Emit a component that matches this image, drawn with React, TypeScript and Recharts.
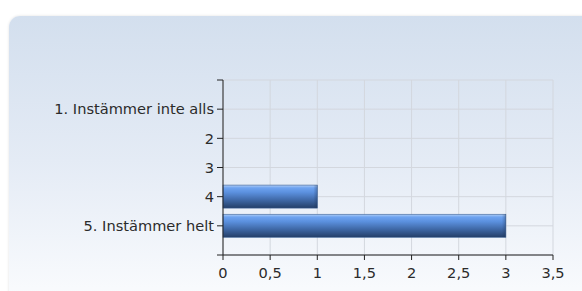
import { Bar, BarChart, CartesianGrid, XAxis, YAxis } from "recharts";

const categories = ["1. Instämmer inte alls", "2", "3", "4", "5. Instämmer helt"];
const positions = [1, 2, 3, 4, 5];
const answers = [0, 0, 0, 1, 3];
const xTicks = [0, 0.5, 1, 1.5, 2, 2.5, 3, 3.5];
const yTicks = [0, 1, 2, 3, 4, 5, 6];

const data = categories.map((name, i) => ({ name, pos: positions[i], value: answers[i] }));

const font = { fontFamily: "DejaVu Sans", fontSize: 14.6, fill: "#2b2b2b" };

function CylinderBar(props: any) {
  const { x, y, width, height } = props;
  if (!width || width <= 0) return null;
  return (
    <g>
      <rect x={x} y={y} width={width} height={height} fill="url(#barGrad)" stroke="#3a5f94" strokeWidth={0.6} />
      <rect x={x + width - 4} y={y} width={4} height={height} fill="url(#endGrad)" />
    </g>
  );
}

export default function App() {
  return (
    <div style={{ position: "absolute", left: 0, top: 0, width: 582, height: 291, overflow: "hidden", background: "#fff" }}>
      <div
        style={{
          position: "absolute",
          left: 9,
          top: 16,
          width: 620,
          height: 320,
          borderRadius: 11,
          background: "linear-gradient(to bottom, #d3dfee 0%, #e4ebf5 45%, #f8fafd 85%, #ffffff 100%)",
          boxShadow: "0 0 3px rgba(0,0,0,0.12)",
        }}
      />
      <div style={{ position: "absolute", left: 0, top: 0 }}>
        <BarChart
          width={582}
          height={291}
          data={data}
          layout="vertical"
          margin={{ top: 80, right: 29, bottom: 0, left: 0 }}
        >
          <defs>
            <linearGradient id="barGrad" x1="0" y1="0" x2="0" y2="1">
              <stop offset="0%" stopColor="#b4d0f6" />
              <stop offset="12%" stopColor="#6ea3f0" />
              <stop offset="32%" stopColor="#5b90de" />
              <stop offset="65%" stopColor="#3f68a6" />
              <stop offset="100%" stopColor="#243f68" />
            </linearGradient>
            <linearGradient id="endGrad" x1="0" y1="0" x2="1" y2="0">
              <stop offset="0%" stopColor="#1c3050" stopOpacity={0} />
              <stop offset="100%" stopColor="#1c3050" stopOpacity={0.35} />
            </linearGradient>
          </defs>
          <CartesianGrid stroke="#d3d7de" horizontalValues={yTicks} verticalValues={xTicks} />
          <XAxis
            type="number"
            domain={[0, 3.5]}
            ticks={xTicks}
            interval={0}
            height={36}
            tickSize={5}
            tickMargin={8}
            tick={font}
            stroke="#222"
            tickFormatter={(v: number) => String(v).replace(".", ",")}
          />
          <YAxis
            type="number"
            dataKey="pos"
            domain={[0, 6]}
            ticks={yTicks}
            interval={0}
            width={223}
            tickSize={6}
            tickMargin={3}
            tick={font}
            stroke="#222"
            tickFormatter={(v: number) => (v >= 1 && v <= 5 ? categories[v - 1] : "")}
          />
          <Bar dataKey="value" barSize={23} shape={CylinderBar} isAnimationActive={false} />
        </BarChart>
      </div>
    </div>
  );
}
